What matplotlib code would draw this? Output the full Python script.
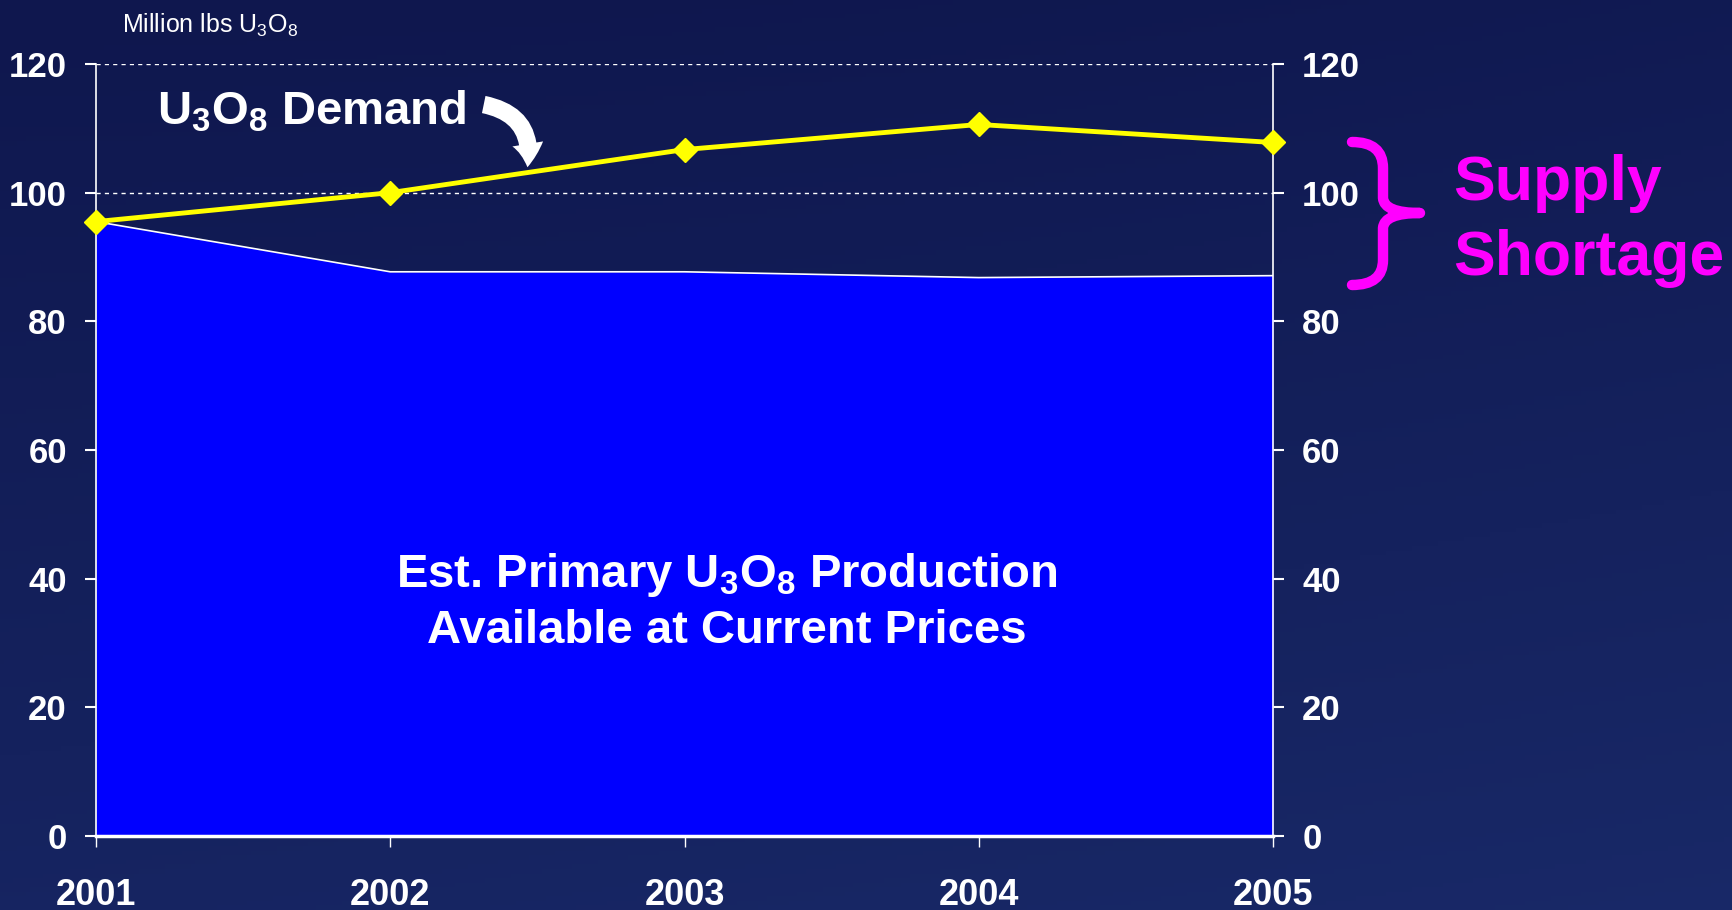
import numpy as np
import matplotlib
matplotlib.use("Agg")
import matplotlib.pyplot as plt
from matplotlib.path import Path
from matplotlib.patches import PathPatch, FancyArrowPatch

plt.rcParams['font.family'] = ['Liberation Sans', 'DejaVu Sans']
plt.rcParams['mathtext.default'] = 'regular'

# datos
anios = [2001, 2002, 2003, 2004, 2005]
demanda = [95.5, 100.0, 106.7, 110.6, 107.8]
produccion = [95.5, 87.7, 87.7, 86.8, 87.1]
ticks_y = [0, 20, 40, 60, 80, 100, 120]

W, H = 1733, 910
fig = plt.figure(figsize=(W / 100, H / 100), dpi=100)

# fondo azul oscuro con degradado
bg = fig.add_axes([0, 0, 1, 1], zorder=-10)
yy, xx = np.mgrid[0:1:200j, 0:1:400j]
base = np.array([15, 23, 78]) / 255
claro = np.array([27, 45, 110]) / 255
t = np.clip(0.6 * yy + 0.2 * xx * yy + 0.15 * (1 - yy) * xx ** 2, 0, 1)
img = base[None, None, :] * (1 - t[..., None]) + claro[None, None, :] * t[..., None]
bg.imshow(img, aspect='auto', extent=[0, 1, 0, 1], origin='upper')
bg.axis('off')

def fx(x):
    return x / W

def fy(y):
    return 1 - y / H

ax = fig.add_axes([fx(96), fy(836), fx(1273) - fx(96), fy(64) - fy(836)])
ax.patch.set_alpha(0)

ax.fill_between(anios, produccion, 0, color='#0000ff', zorder=2, linewidth=0)
ax.plot(anios, produccion, color='white', lw=1.2, zorder=3)
ax.plot(anios, demanda, color='#ffff00', lw=3.5, marker='D', markersize=12,
        markerfacecolor='#ffff00', markeredgecolor='#ffff00', zorder=5, clip_on=False)

ax.set_xlim(2001, 2005)
ax.set_ylim(0, 120)
ax.set_xticks(anios)
ax.set_yticks(ticks_y)
ax.yaxis.grid(True, color='white', linestyle=(0, (3, 3)), lw=1)
ax.set_axisbelow(True)

for s in ['left', 'right']:
    ax.spines[s].set_color('white')
    ax.spines[s].set_linewidth(1.2)
ax.spines['bottom'].set_color('white')
ax.spines['bottom'].set_linewidth(2.5)
ax.spines['top'].set_visible(False)

ax.tick_params(axis='y', left=True, right=True, labelleft=True, labelright=True,
               colors='white', length=8, width=1.5, pad=13, labelsize=25)
ax.tick_params(axis='x', colors='white', length=8, width=1, pad=22, labelsize=26)
for tk in ax.yaxis.get_major_ticks() + ax.xaxis.get_major_ticks():
    tk.label1.set_fontweight('bold')
    tk.label2.set_fontweight('bold')

# textos dentro del area azul
ax.text(2003.144, 38.7, 'Est. Primary U$_3$O$_8$ Production', color='white', fontsize=34,
        fontweight='bold', ha='center', va='baseline', zorder=6)
ax.text(2003.144, 30.0, 'Available at Current Prices', color='white', fontsize=34,
        fontweight='bold', ha='center', va='baseline', zorder=6)

# textos de la figura
fig.text(fx(122), fy(33), 'Million lbs U$_3$O$_8$', color='white', fontsize=18, va='baseline')
fig.text(fx(157), fy(125), 'U$_3$O$_8$ Demand', color='white', fontsize=34,
         fontweight='bold', va='baseline')

flecha = FancyArrowPatch((fx(481), fy(104)), (fx(527), fy(170)), transform=fig.transFigure,
                         connectionstyle='arc3,rad=-0.5',
                         arrowstyle='simple,head_width=1.6,head_length=1.2,tail_width=0.9',
                         mutation_scale=14, color='white', lw=0)
fig.patches.append(flecha)

# llave magenta
pts = [(1352, 142), (1383, 142), (1383, 168), (1383, 198), (1384, 213), (1420, 213),
       (1384, 213), (1383, 228), (1383, 260), (1383, 285), (1352, 285)]
codes = [Path.MOVETO, Path.CURVE3, Path.CURVE3, Path.LINETO, Path.CURVE3, Path.CURVE3,
         Path.CURVE3, Path.CURVE3, Path.LINETO, Path.CURVE3, Path.CURVE3]
llave = Path([(fx(x), fy(y)) for x, y in pts], codes)
fig.patches.append(PathPatch(llave, transform=fig.transFigure, fill=False,
                             edgecolor='#ff00ff', lw=7.5, capstyle='round', joinstyle='round'))

fig.text(fx(1453), fy(200), 'Supply', color='#ff00ff', fontsize=45, fontweight='bold', va='baseline')
fig.text(fx(1453), fy(275), 'Shortage', color='#ff00ff', fontsize=45, fontweight='bold', va='baseline')

fig.savefig('out.png', dpi=100)
